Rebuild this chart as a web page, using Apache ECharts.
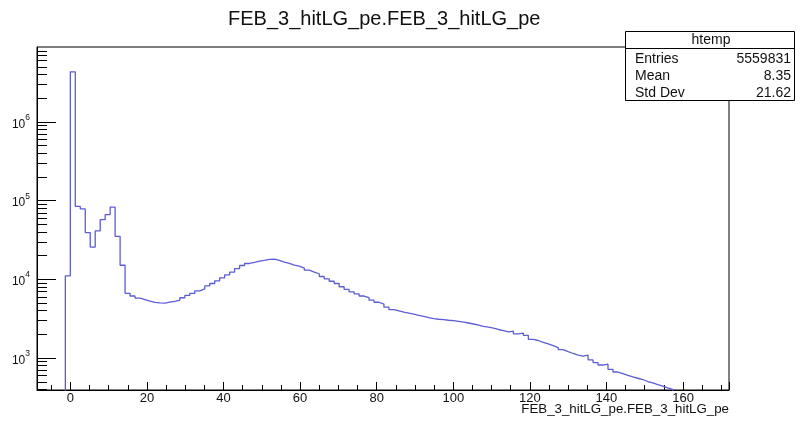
<!DOCTYPE html>
<html><head><meta charset="utf-8">
<script src="https://cdn.jsdelivr.net/npm/echarts@6/dist/echarts.min.js"></script>
<style>html,body{margin:0;padding:0;background:#fff}#c{width:805px;height:423px}</style>
</head><body><div id="c"></div>
<script>
const FONT = '"Liberation Sans", Arial, Helvetica, sans-serif';
const titleText = 'FEB_3_hitLG_pe.FEB_3_hitLG_pe';
const xAxisTitle = 'FEB_3_hitLG_pe.FEB_3_hitLG_pe';
const histName = 'htemp';
const statLabels = ['Entries', 'Mean', 'Std Dev'];
const statValues = ['5559831', '8.35', '21.62'];

// histogram binning (first bin low edge and width)
const binLow = -1.3;
const binWidth = 1.3;
// bin contents, starting at binLow
const counts = [
  11000, 4300000, 84000, 78000, 39000, 25500, 41000, 57000, 66000, 82000,
  35000, 15000, 6600, 6100, 5750, 5500, 5250, 5050, 4980, 4950,
  5100, 5200, 5400, 5800, 6200, 6600, 7100, 7500, 8200, 8800,
  9500, 10400, 11300, 12300, 13600, 14900, 15800, 16300, 16900, 17300,
  17800, 18000, 17300, 16400, 15800, 15100, 14600, 13800, 13000, 12300,
  11700, 10800, 10100, 9400, 8800, 8000, 7400, 6900, 6500, 6100,
  5800, 5400, 5080, 4800, 4400, 4100, 3950, 3800, 3700, 3600,
  3470, 3360, 3240, 3140, 3090, 3060, 3000, 2960, 2910, 2850,
  2770, 2690, 2600, 2510, 2450, 2390, 2290, 2220, 2140, 2180,
  2010, 2060, 1930, 1720, 1660, 1570, 1500, 1430, 1350, 1270,
  1200, 1135, 1085, 1050, 1080, 940, 870, 810, 830, 715,
  660, 630, 600, 573, 550, 530, 500, 480, 457, 436,
  415, 396, 372, 350
];
const xRange = [-8.7, 172];
const yRange = [390, 8.9e6];
const yMajorValues = [1e3, 1e4, 1e5, 1e6];
const yMinorMantissas = [2, 3, 4, 5, 6, 7, 8, 9];
const yDecades = [2, 3, 4, 5, 6];

const FLOOR = 1; // empty bins, below the visible log range
const histData = [[binLow - binWidth, FLOOR]];
counts.forEach((c, i) => histData.push([+(binLow + i * binWidth).toFixed(4), c > 0 ? c : FLOOR]));
histData.push([+(binLow + counts.length * binWidth).toFixed(4), FLOOR]);

const yMajorTicks = yMajorValues.map(v => [xRange[0], v]);
const yMinorTicks = [];
yDecades.forEach(d => yMinorMantissas.forEach(m => {
  const v = m * Math.pow(10, d);
  if (v > yRange[0] && v < yRange[1]) yMinorTicks.push([xRange[0], v]);
}));

function tickRenderer(len, color) {
  return (params, api) => {
    const p = api.coord([api.value(0), api.value(1)]);
    const y = Math.round(p[1]) + 0.5;
    return {type: 'line', shape: {x1: p[0], y1: y, x2: p[0] + len, y2: y},
            style: {stroke: color, lineWidth: 1}};
  };
}

const chart = echarts.init(document.getElementById('c'), null, {renderer: 'canvas'});
chart.setOption({
  animation: false,
  backgroundColor: '#fff',
  title: [
    {text: titleText, left: 228, top: 9, padding: 0,
     textStyle: {fontSize: 20, fontWeight: 'normal', color: '#111', fontFamily: FONT}},
    {text: xAxisTitle, right: 76, top: 403, padding: 0,
     textStyle: {fontSize: 13.3, fontWeight: 'normal', color: '#111', fontFamily: FONT}}
  ],
  grid: {left: 37, right: 76, top: 47, bottom: 33, show: true, borderColor: '#000', borderWidth: 1, containLabel: false},
  xAxis: {
    type: 'value', min: xRange[0], max: xRange[1], splitNumber: 9,
    axisLine: {show: true, onZero: false, lineStyle: {color: '#000', width: 1}},
    axisTick: {show: true, inside: true, length: 8, lineStyle: {color: '#000'}},
    minorTick: {show: true, splitNumber: 4, length: 5, lineStyle: {color: '#000'}},
    splitLine: {show: false}, minorSplitLine: {show: false},
    axisLabel: {showMinLabel: false, showMaxLabel: false, fontSize: 13, margin: 2, color: '#111', fontFamily: FONT}
  },
  yAxis: {
    type: 'log', logBase: 10, min: yRange[0], max: yRange[1], splitNumber: 4,
    axisLine: {show: true, onZero: false, lineStyle: {color: '#000', width: 1}},
    axisTick: {show: false},
    splitLine: {show: false},
    axisLabel: {
      showMinLabel: false, showMaxLabel: false, margin: 7,
      formatter: v => '{b|10}{e|' + Math.round(Math.log10(v)) + '}',
      rich: {
        b: {fontSize: 12, fontFamily: FONT, color: '#111', verticalAlign: 'bottom', lineHeight: 17, padding: [5, 0, 0, 0]},
        e: {fontSize: 8.5, fontFamily: FONT, color: '#111', verticalAlign: 'top', lineHeight: 17}
      }
    }
  },
  series: [
    {
      type: 'line', step: 'end', data: histData, showSymbol: false, symbol: 'none',
      lineStyle: {color: '#5c5cd6', width: 1.3}, clip: true, z: 3, silent: true
    },
    {type: 'custom', coordinateSystem: 'cartesian2d', silent: true, clip: false, z: 4,
     data: yMajorTicks, renderItem: tickRenderer(19, '#000')},
    {type: 'custom', coordinateSystem: 'cartesian2d', silent: true, clip: false, z: 4,
     data: yMinorTicks, renderItem: tickRenderer(10, '#000')}
  ],
  graphic: [
    {type: 'group', z: 100, children: [
      {type: 'rect', shape: {x: 625.5, y: 31.5, width: 169, height: 69}, style: {fill: '#fff', stroke: '#000', lineWidth: 1}},
      {type: 'line', shape: {x1: 625.5, y1: 48.5, x2: 794.5, y2: 48.5}, style: {stroke: '#000', lineWidth: 1}},
      {type: 'text', x: 711, y: 40, style: {text: histName, fontSize: 14, fontFamily: FONT, fill: '#111', align: 'center', verticalAlign: 'middle'}},
      ...statLabels.map((s, i) => ({type: 'text', x: 635, y: 59.5 + i * 17, style: {text: s, fontSize: 14, fontFamily: FONT, fill: '#111', align: 'left', verticalAlign: 'middle'}})),
      ...statValues.map((s, i) => ({type: 'text', x: 791, y: 59.5 + i * 17, style: {text: s, fontSize: 14, fontFamily: FONT, fill: '#111', align: 'right', verticalAlign: 'middle'}}))
    ]}
  ]
});
</script>
</body></html>
